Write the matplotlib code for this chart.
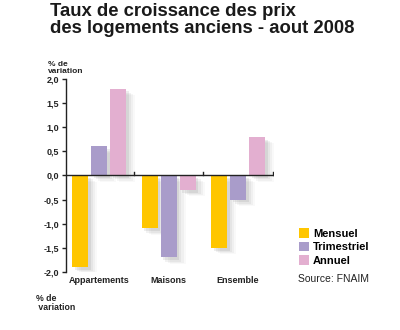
import numpy as np
import matplotlib.pyplot as plt
from matplotlib.patches import Patch

categories = ["Appartements", "Maisons", "Ensemble"]
series_names = ["Mensuel", "Trimestriel", "Annuel"]
mensuel = [-1.9, -1.1, -1.5]
trimestriel = [0.6, -1.7, -0.5]
annuel = [1.8, -0.3, 0.8]
yticks = [-2.0, -1.5, -1.0, -0.5, 0.0, 0.5, 1.0, 1.5, 2.0]

colors = ["#FFC600", "#A99CCA", "#E3AFD0"]
font = "Liberation Sans"

fig = plt.figure(figsize=(4, 3.3), dpi=100)
ax = fig.add_axes([0.165, 0.176, 0.52, 0.585])

x = np.arange(len(categories))
width = 0.23
offsets = [-0.275, 0.0, 0.275]

for vals, off, col in zip([mensuel, trimestriel, annuel], offsets, colors):
    # soft drop shadow behind each bar
    for k, a in enumerate([0.12, 0.09, 0.06, 0.04]):
        d = 0.04 + 0.03 * k
        ax.bar(x + off + d, vals, width, bottom=-0.06 - 0.025 * k,
               color="#707070", alpha=a, zorder=1, linewidth=0)
    ax.bar(x + off, vals, width, color=col, zorder=3, linewidth=0)

ax.set_xlim(-0.48, 2.52)
ax.set_ylim(-2.0, 2.0)

# zero line with small ticks between groups
ax.axhline(0, color="#222222", lw=1.0, zorder=4)
for b in x + 0.5:
    ax.plot([b, b], [0, 0.08], color="#222222", lw=1.0, zorder=4)

for s in ["top", "right", "bottom"]:
    ax.spines[s].set_visible(False)
ax.spines["left"].set_color("#222222")
ax.spines["left"].set_linewidth(1.0)
ax.set_xticks([])
ax.set_yticks(yticks)
ax.set_yticklabels([f"{v:.1f}".replace(".", ",") for v in yticks],
                   fontsize=6.5, fontfamily=font, fontweight="bold", color="#222222")
ax.tick_params(axis="y", length=3, width=1.0, color="#222222", pad=2)

for xi, name in zip(x, categories):
    ax.text(xi, -2.08, name, ha="center", va="top", fontsize=6.5,
            fontfamily=font, fontweight="bold", color="#222222")

fig.text(0.125, 0.992, "Taux de croissance des prix\ndes logements anciens - aout 2008",
         ha="left", va="top", fontsize=13.3, fontfamily=font, fontweight="bold",
         color="#1a1a1a", linespacing=1.02)
fig.text(0.12, 0.815, "% de\nvariation", ha="left", va="top", fontsize=6,
         fontfamily=font, fontweight="bold", color="#222222", linespacing=1.0)
fig.text(0.09, 0.11, "% de\n variation", ha="left", va="top", fontsize=6.3,
         fontfamily=font, fontweight="bold", color="#222222", linespacing=1.0)

handles = [Patch(facecolor=c, edgecolor="none") for c in colors]
fig.legend(handles, series_names, loc="upper left", bbox_to_anchor=(0.733, 0.325),
           frameon=False, handlelength=0.9, handleheight=0.9, handletextpad=0.4,
           labelspacing=0.28, borderpad=0,
           prop={"family": font, "weight": "bold", "size": 8})
fig.text(0.745, 0.155, "Source: FNAIM", ha="left", va="center", fontsize=7.5,
         fontfamily=font, color="#222222")

fig.savefig("out.png", dpi=100)
